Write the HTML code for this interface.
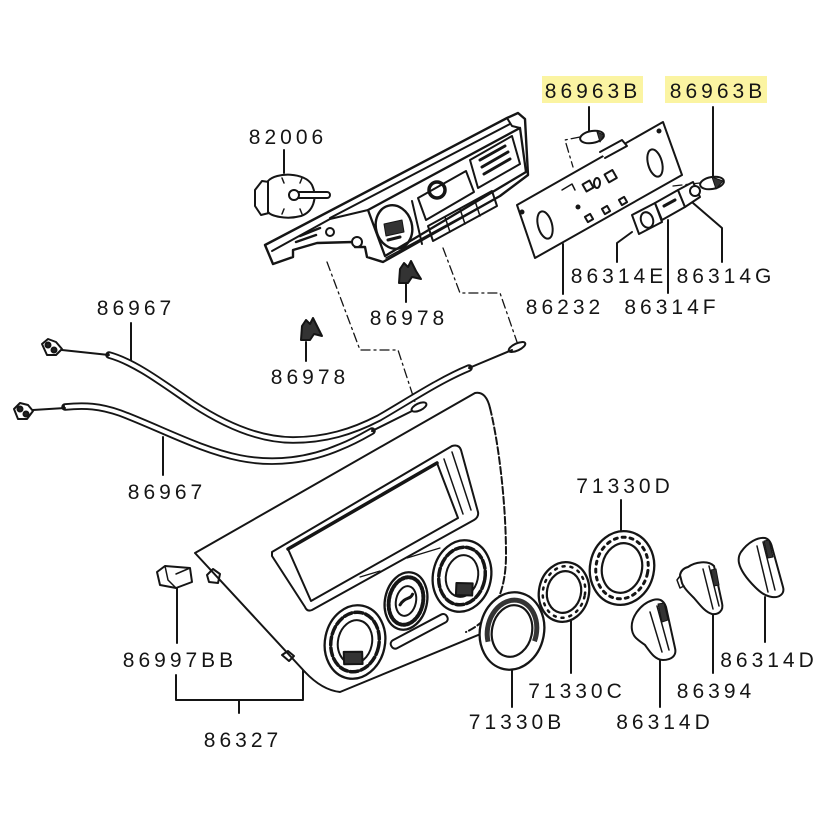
<!DOCTYPE html>
<html><head><meta charset="utf-8">
<style>
html,body{margin:0;padding:0;background:#fff;}
svg{display:block;}
text{font-family:"Liberation Sans",sans-serif;font-size:21px;letter-spacing:4px;fill:#151515;text-anchor:middle;}
</style></head><body>
<svg width="840" height="840" viewBox="0 0 840 840" xmlns="http://www.w3.org/2000/svg">
<rect width="840" height="840" fill="#fff"/>

<!-- highlights -->
<rect x="542" y="76" width="101" height="27" fill="#fbf4a2"/>
<rect x="665" y="76" width="102" height="27" fill="#fbf4a2"/>

<!-- labels -->
<text x="593" y="98">86963B</text>
<text x="718" y="98">86963B</text>
<text x="288" y="144">82006</text>
<text x="136" y="315">86967</text>
<text x="409" y="325">86978</text>
<text x="310" y="384">86978</text>
<text x="565" y="314">86232</text>
<text x="619" y="283">86314E</text>
<text x="726" y="283">86314G</text>
<text x="672" y="314">86314F</text>
<text x="167" y="499">86967</text>
<text x="625" y="493">71330D</text>
<text x="180" y="667">86997BB</text>
<text x="769" y="667">86314D</text>
<text x="577" y="698">71330C</text>
<text x="716" y="698">86394</text>
<text x="517" y="729">71330B</text>
<text x="665" y="729">86314D</text>
<text x="243" y="747">86327</text>

<g fill="none" stroke="#151515" stroke-width="2" stroke-linejoin="round" stroke-linecap="round">

<!-- leaders -->
<path d="M589,107 L589,131"/>
<path d="M713,107 L713,177"/>
<path d="M284,150 L284,173"/>
<path d="M131,323 L131,360"/>
<path d="M406,283 L406,302"/>
<path d="M306,342 L306,361"/>
<path d="M563,244 L563,294"/>
<path d="M632,232 L617,243 L617,262"/>
<path d="M668,220 L668,293"/>
<path d="M693,203 L722,228 L722,262"/>
<path d="M163,437 L163,475"/>
<path d="M621,500 L621,531"/>
<path d="M571,621 L571,673"/>
<path d="M512,670 L512,707"/>
<path d="M660,660 L660,707"/>
<path d="M713,615 L713,673"/>
<path d="M765,597 L765,642"/>
<path d="M177,588 L177,643"/>
<path d="M176,675 L176,700 L303,700 L303,670 M239,700 L239,713"/>

<!-- dash-dot lines -->
<g stroke-width="1.3" stroke-dasharray="9 4 2 4">
<path d="M327,262 L360,350 L398,350 L415,402"/>
<path d="M443,248 L460,293 L500,293 L517,342"/>
<path d="M580,137 L565,140 L573,167"/>
<path d="M673,186 L700,183"/>
</g>

<!-- cables -->
<path d="M109,355 C135,362 165,385 193,404 C225,425 260,440 293,440 C325,440 352,432 379,418 C410,400 440,380 469,368" stroke-width="7.5"/>
<path d="M109,355 C135,362 165,385 193,404 C225,425 260,440 293,440 C325,440 352,432 379,418 C410,400 440,380 469,368" stroke="#fff" stroke-width="3.8" stroke-linecap="butt"/>
<path d="M65,407 C85,405 100,406 120,413 C160,428 200,450 240,458 C275,465 310,460 340,447 C355,441 365,435 372,431" stroke-width="7.5"/>
<path d="M65,407 C85,405 100,406 120,413 C160,428 200,450 240,458 C275,465 310,460 340,447 C355,441 365,435 372,431" stroke="#fff" stroke-width="3.8" stroke-linecap="butt"/>
<path d="M469,368 L512,350"/>
<ellipse cx="517" cy="347" rx="9" ry="3.5" transform="rotate(-25 517 347)"/>
<path d="M372,431 L412,411"/>
<ellipse cx="419" cy="407" rx="8" ry="3.5" transform="rotate(-25 419 407)"/>
<path d="M62,350 L109,355"/>
<path d="M33,410 L65,408"/>
<path d="M42,344 L48,339 L56,342 L62,349 L56,355 L47,355 Z" fill="#fff"/>
<circle cx="48" cy="345" r="2.5" fill="#222"/><circle cx="54" cy="350" r="2.5" fill="#222"/>
<path d="M14,409 L20,403 L28,405 L33,411 L27,419 L18,419 Z" fill="#fff"/>
<circle cx="20" cy="409" r="2.5" fill="#222"/><circle cx="26" cy="414" r="2.5" fill="#222"/>

<!-- clips 86978 -->
<path d="M301,340 L302,326 L306,320 L310,324 L313,318 L318,328 L322,336 L314,334 L310,340 Z" fill="#333"/>
<path d="M399,283 L400,269 L404,263 L408,267 L411,261 L416,271 L421,279 L412,277 L408,283 Z" fill="#333"/>

<!-- motor 82006 -->
<path d="M255,190 L262,181 L269,182 L269,213 L261,215 L255,206 Z" fill="#fff"/>
<path d="M268,181 C276,172 305,172 312,185 C318,198 313,212 301,216 C286,220 271,216 268,212 Z" fill="#fff"/>
<path d="M282,178 L284,183 M302,178 L300,183 M282,214 L284,209 M302,214 L300,209" stroke-width="1.5"/>
<rect x="293" y="192" width="37" height="6" rx="3" fill="#fff"/>
<circle cx="294" cy="195" r="5" fill="#fff"/>

<!-- housing -->
<path d="M265,245 L507,118 L518,113 L525,119 L528,175 L500,196 L383,262 L367,257 L365,247 L355,247 L353,242 L317,243 L293,250 L293,257 L273,264 Z" fill="#fff" stroke-width="2.4"/>
<path d="M330,218 L510,124"/>
<path d="M272,251 L330,219 L368,210"/>
<path d="M368,210 L520,128 L526,172 L385,256 Z" stroke-width="2.3"/>
<path d="M507,118 L512,126 L520,128"/>
<ellipse cx="394" cy="227" rx="18" ry="22" transform="rotate(-15 394 227)" stroke-width="2.4"/>
<path d="M384,224 L402,220 L404,232 L386,236 Z" fill="#333" stroke-width="1"/>
<path d="M388,240 L400,237" stroke-width="3"/>
<path d="M412,201 L422,244"/>
<path d="M418,198 L466,171 L474,192 L426,220 Z"/>
<circle cx="437" cy="190" r="8" stroke-width="3.5"/>
<path d="M470,160 L512,136 L520,164 L478,188 Z"/>
<path d="M480,160 L505,146 M482,167 L508,152 M484,174 L510,159" stroke-width="3"/>
<path d="M428,226 L492,191 L497,206 L433,241 Z"/>
<path d="M445,217 L450,232 M460,209 L465,224 M475,201 L480,216" stroke-width="1.5"/>
<path d="M386,258 L500,196" stroke-width="1.5"/>
<circle cx="357" cy="242" r="5" fill="#fff"/>
<circle cx="330" cy="232" r="4" fill="#fff"/>
<path d="M300,236 L320,228 M296,242 L316,235" stroke-width="2.5"/>

<!-- plate 86232 -->
<path d="M517,205 L663,122 L682,175 L535,258 Z" fill="#fff"/>
<path d="M600,152 L622,140 L627,146 L605,158" fill="#fff"/>
<ellipse cx="545" cy="225" rx="7" ry="14" transform="rotate(-15 545 225)"/>
<ellipse cx="655" cy="163" rx="7" ry="14" transform="rotate(-15 655 163)"/>
<rect x="584" y="182" width="8" height="8" transform="rotate(-30 588 186)"/>
<rect x="606" y="172" width="9" height="9" transform="rotate(-30 610 176)"/>
<ellipse cx="597" cy="183" rx="3" ry="5"/>
<rect x="586" y="215" width="6" height="6" transform="rotate(-30 589 218)"/>
<rect x="603" y="207" width="6" height="6" transform="rotate(-30 606 210)"/>
<rect x="620" y="198" width="6" height="6" transform="rotate(-30 623 201)"/>
<path d="M562,190 L572,184 L575,190" stroke-width="1.5"/>
<circle cx="522" cy="212" r="1.5" fill="#222"/>
<circle cx="659" cy="131" r="1.5" fill="#222"/>
<circle cx="578" cy="207" r="1.5" fill="#222"/>

<!-- bulbs -->
<ellipse cx="592" cy="137" rx="12" ry="6" transform="rotate(-10 592 137)" fill="#fff"/>
<path d="M597,132 L604,135 L600,142 Z" fill="#333" stroke-width="1"/>
<ellipse cx="712" cy="183" rx="12" ry="6" transform="rotate(-10 712 183)" fill="#fff"/>
<path d="M712,177 L723,181 L716,189 Z" fill="#333" stroke-width="1"/>

<!-- switch block -->
<path d="M632,215 L655,203 L662,222 L639,234 Z" fill="#fff"/>
<ellipse cx="647" cy="220" rx="6" ry="8" transform="rotate(-20 647 220)"/>
<path d="M655,203 L678,190 L685,207 L662,220 Z" fill="#fff"/>
<path d="M678,190 L693,182 L700,197 L685,207 Z" fill="#fff"/>
<circle cx="695" cy="191" r="5" fill="#fff"/>
<path d="M664,206 L675,200" stroke-width="3"/>

<!-- clip 86997BB -->
<path d="M157,572 L165,566 L190,568 L192,582 L176,588 L160,585 Z" fill="#fff"/>
<path d="M165,566 L168,580 L176,588 M176,574 L190,568" stroke-width="1.5"/>

<!-- bezel -->
<path d="M305,672 L195,553 L475,393 Q486,391 490,408 C498,440 506,500 506,555 C506,600 488,622 466,632 L340,692 Q322,690 305,672 Z" fill="#fff" stroke="none"/>
<path d="M305,672 L195,553 L475,393 Q486,391 490,408"/>
<path d="M490,408 C498,440 506,500 506,555 C506,600 488,622 466,632" stroke-dasharray="7 3"/>
<path d="M483,633 L340,692 Q322,690 305,672"/>
<path d="M207,575 L213,569 L220,574 L218,583 L209,582 Z"/>
<path d="M282,655 L288,651 L294,656 L289,661 Z"/>

<!-- window -->
<path d="M272,552 L452,446 Q459,444 461,450 L478,512 Q479,517 474,520 L312,610 Q307,612 305,607 L272,556 Z" fill="#fff"/>
<path d="M288,549 L437,463 L458,518 L311,601 Z"/>
<path d="M288,549 L437,463" stroke-width="3.5"/>
<path d="M444,459 L463,514 M452,452 L471,510" stroke-width="1.5"/>
<path d="M407,558 L440,548 M360,577 L380,571" stroke-width="1.2"/>

<!-- bezel dials -->
<g transform="translate(355,642) rotate(12)">
<ellipse rx="30" ry="37" fill="#fff" stroke-width="2.3"/>
<ellipse rx="24" ry="30" stroke-width="3.5" stroke-dasharray="8 3"/>
<ellipse rx="17" ry="22"/>
<path d="M-9,12 L9,8 L12,20 L-6,24 Z" fill="#333"/>
</g>
<g transform="translate(406,601) rotate(12)">
<ellipse rx="21" ry="29" fill="#fff" stroke-width="2.3"/>
<ellipse rx="17" ry="24" stroke-width="4" stroke-dasharray="2 2"/>
<ellipse rx="10" ry="15"/>
<path d="M-5,5 C-2,-4 4,-2 5,-8" stroke-width="3"/>
</g>
<g transform="translate(462,576) rotate(12)">
<ellipse rx="29" ry="36" fill="#fff" stroke-width="2.3"/>
<ellipse rx="23" ry="29" stroke-width="3.5" stroke-dasharray="8 3"/>
<ellipse rx="16" ry="21"/>
<path d="M-4,8 L12,5 L14,17 L-2,20 Z" fill="#333"/>
</g>
<rect x="388" y="627" width="63" height="9" rx="4" transform="rotate(-28 419 632)" fill="#fff"/>

<!-- rings -->
<g transform="translate(512,631) rotate(12)">
<ellipse rx="32" ry="39" fill="#fff" stroke-width="2.3"/>
<path d="M-21.2,15.5 A24.5,31 0 1 1 24.1,5.4" stroke="#333" stroke-width="5" stroke-linecap="butt"/>
<ellipse rx="20" ry="26" stroke-width="2.2"/>
</g>
<g transform="translate(564,592) rotate(12)">
<ellipse rx="25" ry="30" fill="#fff" stroke-width="2.3"/>
<ellipse rx="21" ry="26" stroke-width="2.5" stroke-dasharray="2 6"/>
<ellipse rx="17" ry="21" stroke-width="2.2"/>
</g>
<g transform="translate(622,568) rotate(12)">
<ellipse rx="32" ry="37" fill="#fff" stroke-width="2.3"/>
<ellipse rx="26" ry="31" stroke-width="3" stroke-dasharray="3 5"/>
<ellipse rx="20" ry="25" stroke-width="2.2"/>
</g>

<!-- knobs -->
<path d="M632,630 C630,618 640,604 653,600 C660,598 664,601 666,607 L675,648 C677,656 671,660 663,660 C655,660 650,652 645,645 C638,640 633,637 632,630 Z" fill="#fff"/>
<path d="M650,612 L662,652 M657,606 L669,650" stroke-width="1.5"/>
<path d="M658,604 L664,603 L668,620 L662,622 Z" fill="#333" stroke-width="1"/>

<path d="M688,567 C695,562 708,560 714,566 L722,603 C724,611 718,615 712,614 C705,612 700,605 694,598 C688,592 684,588 682,583 L680,575 C681,570 684,568 688,567 Z" fill="#fff"/>
<path d="M680,576 L677,580 L680,588 L684,586" stroke-width="1.5"/>
<path d="M703,569 L713,609 M709,566 L719,606" stroke-width="1.5"/>
<path d="M711,570 L716,569 L719,585 L714,586 Z" fill="#333" stroke-width="1"/>

<path d="M741,552 C748,542 758,537 765,538 C769,539 771,543 772,547 L783,587 C785,594 779,598 772,597 C765,596 760,592 755,587 C748,580 741,572 739,563 C738,558 739,555 741,552 Z" fill="#fff"/>
<path d="M757,546 L768,592 M763,542 L775,590" stroke-width="1.5"/>
<path d="M764,541 L769,540 L773,557 L768,558 Z" fill="#333" stroke-width="1"/>
</g>
</svg>
</body></html>
